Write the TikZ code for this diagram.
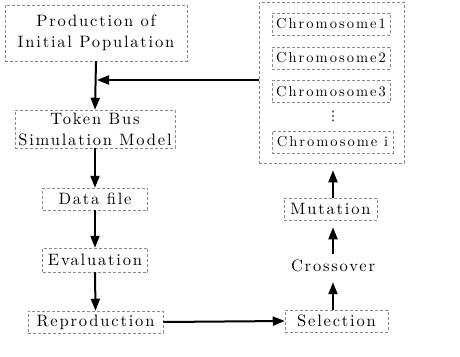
\documentclass[tikz,border=0pt]{standalone}
\usepackage{fontspec}
\newfontfamily\spcfont{lmroman10-regular.otf}[LetterSpace=11]
\newfontfamily\chrfont{lmroman10-regular.otf}[LetterSpace=14]
\newfontfamily\symfont{DejaVu Sans}
\usetikzlibrary{arrows.meta}
\tikzset{
  box/.style={draw=black!45, densely dashed, line width=0.5pt, inner sep=0pt, align=center,
    font=\spcfont\fontsize{16.5}{21}\selectfont},
  plain/.style={inner sep=0pt, align=center, font=\spcfont\fontsize{16.5}{21}\selectfont},
  chrom/.style={box, font=\chrfont\fontsize{14.5}{18}\selectfont},
  flow/.style={line width=2pt, -{Triangle[length=12pt,width=9pt]}}
}
\begin{document}
\begin{tikzpicture}[x=1pt,y=-1pt]
\useasboundingbox (0,0) rectangle (460,356);
% left column
\node[box, minimum width=182, minimum height=56] (prod) at (96,33) {Production of\\Initial Population};
\node[box, minimum width=160, minimum height=38] (token) at (95,129) {Token Bus\\Simulation Model};
\node[box, minimum width=105, minimum height=22] (data) at (95,199) {Data file};
\node[box, minimum width=105, minimum height=24] (eval) at (95,260) {Evaluation};
\node[box, minimum width=135, minimum height=22] (repro) at (95.5,322) {Reproduction};
% right column
\node[draw=black!45, densely dashed, line width=0.5pt, minimum width=145, minimum height=161, inner sep=0pt] (outer) at (331.5,82.5) {};
\node[chrom, minimum width=118, minimum height=22] (c1) at (331,24) {Chromosome1};
\node[chrom, minimum width=118, minimum height=22] (c2) at (331,58) {Chromosome2};
\node[chrom, minimum width=118, minimum height=22] (c3) at (331,91.5) {Chromosome3};
\node[inner sep=0pt, font=\symfont\fontsize{13}{13}\selectfont] (dots) at (333,116) {⋮};
\node[chrom, minimum width=121, minimum height=22] (ci) at (332.5,142) {Chromosome i};
\node[box, minimum width=93, minimum height=22] (mut) at (330.5,209) {Mutation};
\node[plain, minimum height=20] (cross) at (333,266) {Crossover};
\node[box, minimum width=103, minimum height=22] (sel) at (336.5,321) {Selection};
% connectors
\coordinate (j) at (97,80);
\draw[flow] (prod.south) -- (token.north);
\draw[flow] (outer.west |- j) -- (j);
\draw[flow] (token.south) -- (data.north);
\draw[flow] (data.south) -- (eval.north);
\draw[flow] (eval.south) -- (repro.north);
\draw[flow] (repro.east) -- (sel.west);
\draw[flow] (sel.north -| cross) -- ([yshift=-6pt]cross.south);
\draw[flow] ([yshift=2pt]cross.north) -- ([yshift=-7pt]mut.south -| cross);
\draw[flow] (mut.north -| cross) -- ([yshift=-7pt]outer.south -| cross);
\end{tikzpicture}
\end{document}
